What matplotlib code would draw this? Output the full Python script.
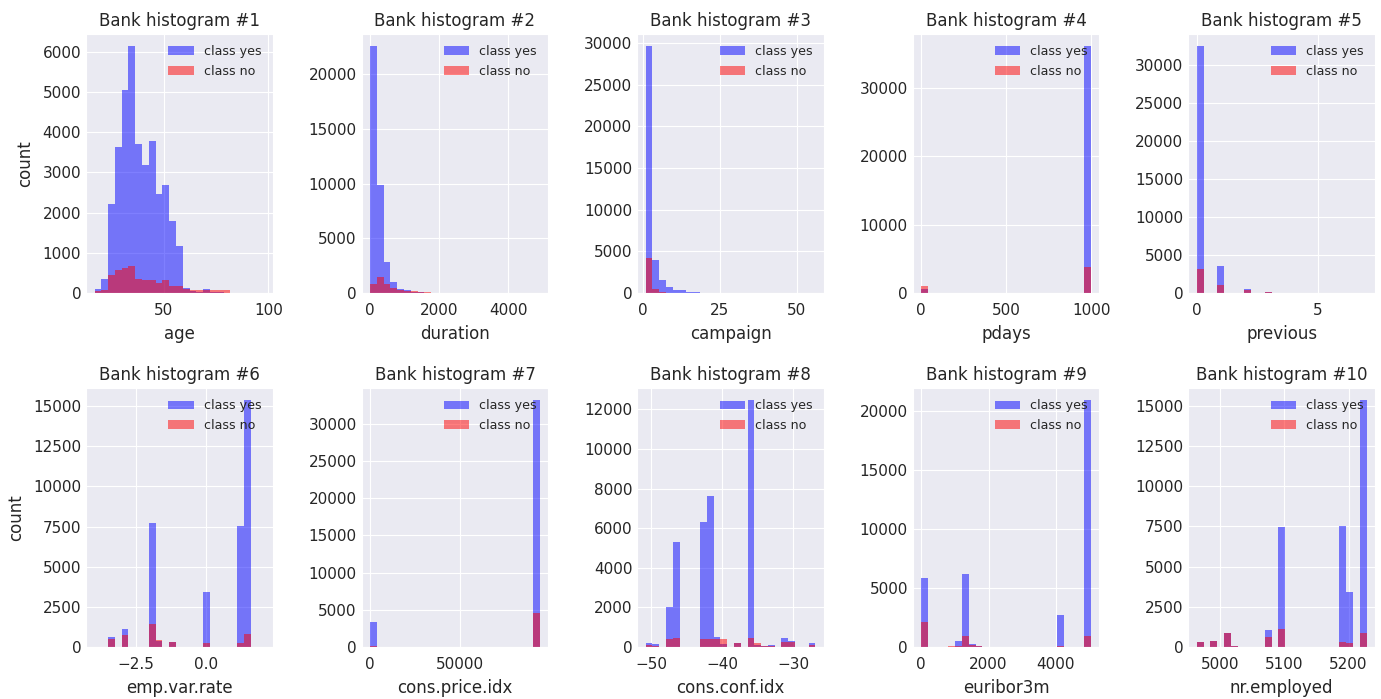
import numpy as np
import matplotlib
matplotlib.use("Agg")
import matplotlib.pyplot as plt
import seaborn as sns
from matplotlib.ticker import MaxNLocator

sns.set_style("darkgrid")
plt.rcParams['font.family'] = ['DejaVu Sans']

features = ["age", "duration", "campaign", "pdays", "previous",
            "emp.var.rate", "cons.price.idx", "cons.conf.idx", "euribor3m", "nr.employed"]

# data range (min, max) of each feature; 25 equal bins span it
range_lo = [17, 0, 1, 0, 0, -3.98, 92.2, -50.8, 0.634, 4963.6]
range_hi = [98, 4918, 56, 999, 7, 2.07, 94767, -26.9, 5045, 5228.1]

# counts per bin, "class yes" (blue)
yes_age = [108, 358, 2213, 3644, 5042, 6140, 3702, 3186, 3785, 2471, 2679, 1797, 1165,
           133, 50, 25, 108, 30, 15, 8, 5, 3, 2, 1, 1]
yes_duration = [22560, 9850, 2835, 1006, 366, 244, 120, 60, 35, 20, 12, 8, 6, 4, 3, 2, 2,
                1, 1, 1, 0, 0, 0, 0, 1]
yes_campaign = [29600, 3900, 1500, 700, 380, 300, 150, 90, 50, 40, 20, 15, 8, 5, 5, 3, 2,
                2, 1, 1, 1, 1, 0, 0, 1]
yes_pdays = [600, 0, 0, 0, 0, 0, 0, 0, 0, 0, 0, 0, 0, 0, 0, 0, 0, 0, 0, 0, 0, 0, 0, 0, 36100]
yes_previous = [32450, 0, 0, 3600, 0, 0, 0, 520, 0, 0, 88, 0, 0, 0, 32, 0, 0, 5, 0, 0, 0, 2,
                0, 0, 1]
yes_emp = [0, 0, 600, 0, 1150, 0, 0, 0, 7723, 370, 0, 334, 0, 0, 0, 0, 3450, 0, 0, 0, 0,
           7520, 15360, 0, 0]
yes_price = [3380, 0, 0, 0, 0, 0, 0, 0, 0, 0, 0, 0, 0, 0, 0, 0, 0, 0, 0, 0, 0, 0, 0, 0, 33170]
yes_conf = [203, 136, 0, 2034, 5305, 10, 0, 0, 6322, 7627, 480, 150, 0, 210, 0, 12458, 119,
            60, 100, 0, 475, 322, 0, 0, 203]
yes_euribor = [5890, 0, 0, 0, 30, 512, 6174, 285, 50, 0, 0, 0, 0, 0, 0, 0, 0, 0, 0, 0, 2703,
               0, 0, 0, 20910]
yes_employed = [334, 0, 370, 0, 900, 84, 0, 0, 0, 0, 1044, 0, 7477, 0, 0, 0, 0, 0, 0, 0, 10,
                7500, 3450, 0, 15350]

# counts per bin, "class no" (red)
no_age = [50, 67, 441, 582, 632, 666, 358, 316, 316, 250, 316, 183, 166, 108, 67, 67, 67,
          67, 67, 67, 5, 3, 2, 1, 1]
no_duration = [854, 1463, 854, 488, 305, 183, 150, 80, 50, 40, 30, 20, 15, 10, 8, 5, 4, 3,
               2, 2, 1, 1, 1, 0, 0]
no_campaign = [4150, 450, 113, 40, 24, 8, 5, 3, 2, 1, 1, 0, 0, 0, 0, 0, 0, 0, 0, 0, 0, 0,
               0, 0, 0]
no_pdays = [1050, 0, 0, 0, 0, 0, 0, 0, 0, 0, 0, 0, 0, 0, 0, 0, 0, 0, 0, 0, 0, 0, 0, 0, 3750]
no_previous = [3200, 0, 0, 1000, 0, 0, 0, 350, 0, 0, 128, 0, 0, 0, 38, 0, 0, 13, 0, 0, 0, 3,
               0, 0, 0]
no_emp = [0, 0, 480, 0, 720, 0, 0, 0, 1461, 410, 0, 290, 0, 0, 0, 0, 232, 0, 0, 0, 0, 240,
          830, 0, 0]
no_price = [130, 0, 0, 0, 0, 0, 0, 0, 0, 0, 0, 0, 0, 0, 0, 0, 0, 0, 0, 0, 0, 0, 0, 0, 4510]
no_conf = [85, 50, 0, 390, 475, 0, 0, 0, 390, 390, 380, 380, 0, 220, 0, 475, 203, 50, 60, 0,
           237, 237, 0, 0, 120]
no_euribor = [2134, 0, 0, 0, 114, 114, 967, 142, 114, 0, 0, 0, 0, 0, 0, 0, 0, 0, 0, 0, 114,
              0, 0, 0, 967]
no_employed = [301, 0, 403, 0, 840, 88, 0, 0, 0, 0, 650, 0, 1150, 0, 0, 0, 0, 0, 0, 0, 0,
               300, 230, 0, 850]

yes_counts = [yes_age, yes_duration, yes_campaign, yes_pdays, yes_previous,
              yes_emp, yes_price, yes_conf, yes_euribor, yes_employed]
no_counts = [no_age, no_duration, no_campaign, no_pdays, no_previous,
             no_emp, no_price, no_conf, no_euribor, no_employed]

fig, axes = plt.subplots(2, 5, figsize=(13.81, 6.99), dpi=100)
fig.subplots_adjust(left=0.0623, right=0.9957, top=0.9514, bottom=0.0744,
                    wspace=0.476, hspace=0.367)

for i, ax in enumerate(axes.flat):
    edges = np.linspace(range_lo[i], range_hi[i], 26)
    centers = (edges[:-1] + edges[1:]) / 2
    ax.hist(centers, bins=edges, weights=yes_counts[i], color='b', alpha=0.5,
            label='class yes', linewidth=0)
    ax.hist(centers, bins=edges, weights=no_counts[i], color='r', alpha=0.5,
            label='class no', linewidth=0)
    ax.set_title(f"Bank histogram #{i + 1}", fontsize=12)
    ax.set_xlabel(features[i], fontsize=12, labelpad=5)
    if i % 5 == 0:
        ax.set_ylabel("count", fontsize=12, labelpad=6)
    ax.xaxis.set_major_locator(MaxNLocator(nbins=3, steps=[1, 2, 2.5, 5, 10]))
    ax.yaxis.set_major_locator(MaxNLocator(nbins=7, steps=[1, 2, 2.5, 5, 10]))
    ax.tick_params(labelsize=11, length=0)
    ax.tick_params(axis='x', pad=7)
    ax.legend(loc='upper right', fontsize=9.1, frameon=False)

fig.savefig("out.png", dpi=100)
